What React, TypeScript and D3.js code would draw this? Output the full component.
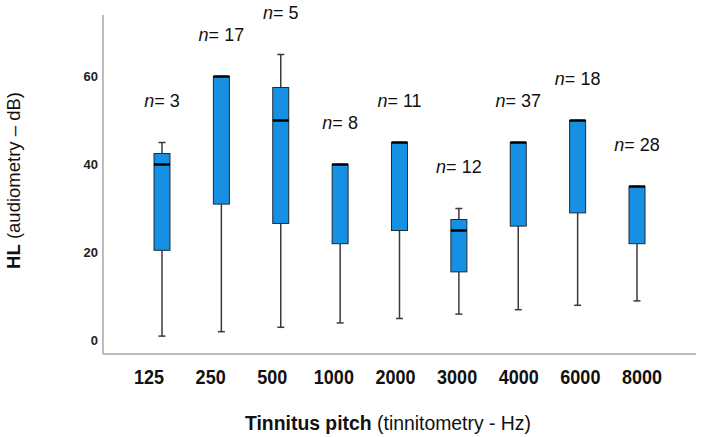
import { useEffect } from 'react';
import * as d3 from 'd3';

// Tinnitus pitch vs hearing level, box plots per pitch group
const categories = ['125', '250', '500', '1000', '2000', '3000', '4000', '6000', '8000'];
const counts = [3, 17, 5, 8, 11, 12, 37, 18, 28];
const whiskerLow = [1, 2, 3, 4, 5, 6, 7, 8, 9];
const q1 = [20.5, 31, 26.6, 22, 25, 15.6, 26, 29, 22];
const medians = [40, 60, 50, 40, 45, 25, 45, 50, 35];
const q3 = [42.5, 60, 57.5, 40, 45, 27.5, 45, 50, 35];
const whiskerHigh = [45, 60, 65, 40, 45, 30, 45, 50, 35];
const yTicks = [0, 20, 40, 60];

const width = 702;
const height = 437;
const sans = "'Liberation Sans', Arial, sans-serif";
const boxFill = '#1590e2';

export default function App() {
  useEffect(() => {
    document.body.style.margin = '0';
  }, []);

  const rows = categories.map((c, i) => ({
    cat: c,
    n: counts[i],
    lo: whiskerLow[i],
    q1: q1[i],
    med: medians[i],
    q3: q3[i],
    hi: whiskerHigh[i],
  }));

  const x = d3.scalePoint<string>().domain(categories).range([162, 637]);
  // tick labels sit on a slightly wider spread than the boxes
  const xLabel = d3.scalePoint<string>().domain(categories).range([149, 642]);
  const y = d3.scaleLinear().domain([0, 60]).range([340.5, 76.5]);

  const axisLeft = 103;
  const axisBottom = 354;
  const boxW = 16;
  const capW = 7;

  return (
    <svg width={width} height={height} style={{ display: 'block', background: '#fff' }}>
      {/* axes */}
      <line x1={axisLeft} x2={axisLeft} y1={15} y2={axisBottom} stroke="#a6a6a6" strokeWidth={1.5} />
      <line x1={axisLeft} x2={696} y1={axisBottom} y2={axisBottom} stroke="#a6a6a6" strokeWidth={1.5} />

      {/* y tick labels */}
      {yTicks.map((t) => (
        <text
          key={t}
          x={98}
          y={y(t)}
          dy="0.35em"
          textAnchor="end"
          fontFamily={sans}
          fontWeight="bold"
          fontSize={13}
          fill="#222"
        >
          {t}
        </text>
      ))}

      {/* x tick labels, condensed like Arial Narrow */}
      {categories.map((c) => (
        <text
          key={c}
          transform={`translate(${xLabel(c)},384) scale(0.9,1)`}
          textAnchor="middle"
          fontFamily={sans}
          fontWeight="bold"
          fontSize={20}
          fill="#111"
        >
          {c}
        </text>
      ))}

      {/* boxes */}
      {rows.map((d) => {
        const cx = x(d.cat) as number;
        return (
          <g key={d.cat}>
            <line x1={cx} x2={cx} y1={y(d.lo)} y2={y(d.q1)} stroke="#3a3a3a" strokeWidth={1.5} />
            <line x1={cx} x2={cx} y1={y(d.hi)} y2={y(d.q3)} stroke="#3a3a3a" strokeWidth={1.5} />
            <line x1={cx - capW / 2} x2={cx + capW / 2} y1={y(d.lo)} y2={y(d.lo)} stroke="#3a3a3a" strokeWidth={1.5} />
            <line x1={cx - capW / 2} x2={cx + capW / 2} y1={y(d.hi)} y2={y(d.hi)} stroke="#3a3a3a" strokeWidth={1.5} />
            <rect
              x={cx - boxW / 2}
              y={y(d.q3)}
              width={boxW}
              height={y(d.q1) - y(d.q3)}
              fill={boxFill}
              stroke="#1f2a33"
              strokeWidth={1}
            />
            <line
              x1={cx - boxW / 2}
              x2={cx + boxW / 2}
              y1={y(d.med)}
              y2={y(d.med)}
              stroke="#000"
              strokeWidth={2.5}
            />
            <text
              x={cx}
              y={y(d.hi) - 36}
              textAnchor="middle"
              fontFamily={sans}
              fontSize={18}
              fill="#111"
            >
              <tspan fontStyle="italic">n</tspan>= {d.n}
            </text>
          </g>
        );
      })}

      {/* axis titles */}
      <text
        x={245}
        y={430}
        textLength={286}
        lengthAdjust="spacingAndGlyphs"
        fontFamily={sans}
        fontSize={20}
        fill="#111"
      >
        <tspan fontWeight="bold">Tinnitus pitch</tspan> (tinnitometry - Hz)
      </text>
      <text
        transform={`translate(20,${180.5}) rotate(-90)`}
        textAnchor="middle"
        fontFamily={sans}
        fontSize={18.5}
        fill="#111"
      >
        <tspan fontWeight="bold">HL</tspan> (audiometry – dB)
      </text>
    </svg>
  );
}
